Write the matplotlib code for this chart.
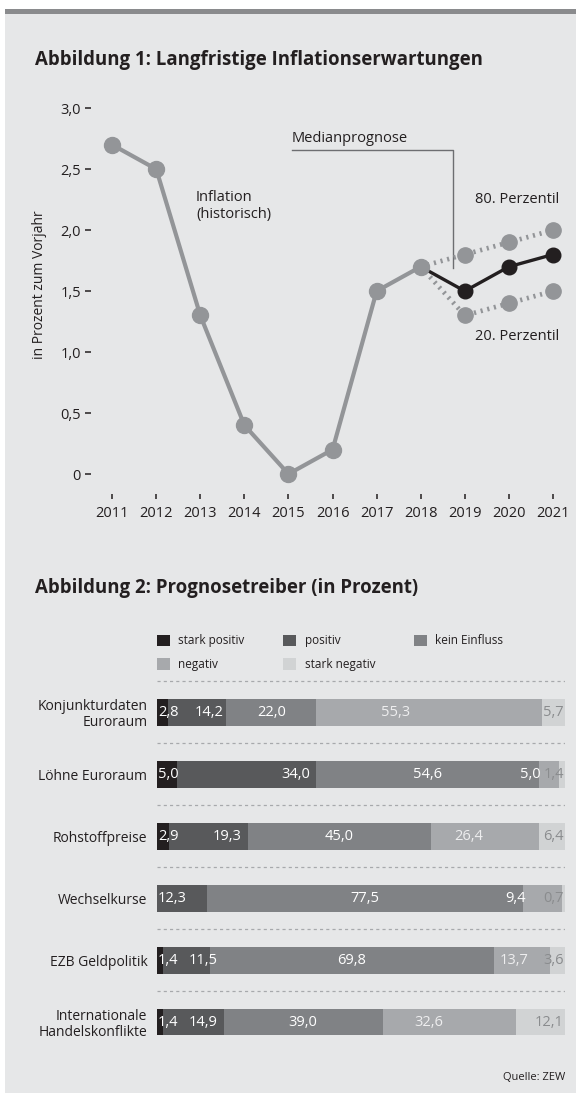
import matplotlib
matplotlib.use("Agg")
import matplotlib.pyplot as plt
from matplotlib.patches import Rectangle, Patch

plt.rcParams['font.family'] = ['Open Sans', 'DejaVu Sans']

# --- Abbildung 1 data
years_hist = [2011, 2012, 2013, 2014, 2015, 2016, 2017, 2018]
inflation_hist = [2.7, 2.5, 1.3, 0.4, 0.0, 0.2, 1.5, 1.7]
years_prog = [2018, 2019, 2020, 2021]
median_prog = [1.7, 1.5, 1.7, 1.8]
p80_prog = [1.7, 1.8, 1.9, 2.0]
p20_prog = [1.7, 1.3, 1.4, 1.5]
y_ticks = [0, 0.5, 1.0, 1.5, 2.0, 2.5, 3.0]
y_tick_labels = ['0', '0,5', '1,0', '1,5', '2,0', '2,5', '3,0']
x_ticks = list(range(2011, 2022))

# --- Abbildung 2 data
drivers = ['Konjunkturdaten\nEuroraum', 'Löhne Euroraum', 'Rohstoffpreise',
           'Wechselkurse', 'EZB Geldpolitik', 'Internationale\nHandelskonflikte']
stark_positiv = [2.8, 5.0, 2.9, 0.0, 1.4, 1.4]
positiv = [14.2, 34.0, 19.3, 12.3, 11.5, 14.9]
kein_einfluss = [22.0, 54.6, 45.0, 77.5, 69.8, 39.0]
negativ = [55.3, 5.0, 26.4, 9.4, 13.7, 32.6]
stark_negativ = [5.7, 1.4, 6.4, 0.7, 3.6, 12.1]
series_names = ['stark positiv', 'positiv', 'kein Einfluss', 'negativ', 'stark negativ']

bg = '#e6e7e8'
txt = '#231f20'
grey = '#939598'
seg_colors = ['#231f20', '#58595b', '#808285', '#a7a9ac', '#d1d3d4']
seg_text = ['white', 'white', 'white', '#eeeeef', '#8a8c8e']

W, H = 576, 1093
fig = plt.figure(figsize=(W / 100, H / 100), dpi=100)
fig.patch.set_facecolor('white')
fig.patches.append(Rectangle((5 / W, 0), 1 - 5 / W, 1 - 14 / H, transform=fig.transFigure,
                             facecolor=bg, edgecolor='none', zorder=-10))
fig.patches.append(Rectangle((5 / W, 1 - 14 / H), 1 - 5 / W, 5.5 / H, transform=fig.transFigure,
                             facecolor='#8a8b8d', edgecolor='none', zorder=-10))

fig.text(35 / W, 1 - 60 / H, 'Abbildung 1: Langfristige Inflationserwartungen',
         fontsize=13.4, fontweight='bold', color=txt, va='center')
fig.text(35 / W, 1 - 588 / H, 'Abbildung 2: Prognosetreiber (in Prozent)',
         fontsize=13.4, fontweight='bold', color=txt, va='center')
fig.text(40 / W, 1 - 285 / H, 'in Prozent zum Vorjahr', rotation=90,
         fontsize=10, color=txt, ha='center', va='center')
fig.text(565 / W, 1 - 1077 / H, 'Quelle: ZEW', fontsize=8, color=txt, ha='right', va='center')

# ---------------- line chart
ax = fig.add_axes([91 / W, 1 - 494 / H, 479.6 / W, 398 / H])
ax.set_facecolor('none')
ax.plot(years_prog, p80_prog, color=grey, lw=3.4, linestyle=(0, (0.45, 1.0)), zorder=2)
ax.plot(years_prog, p20_prog, color=grey, lw=3.4, linestyle=(0, (0.45, 1.0)), zorder=2)
ax.plot(years_prog[1:], p80_prog[1:], 'o', color=grey, ms=11, zorder=4, clip_on=False)
ax.plot(years_prog[1:], p20_prog[1:], 'o', color=grey, ms=11, zorder=4, clip_on=False)
ax.plot(years_prog, median_prog, color=txt, lw=2.4, zorder=3)
ax.plot(years_prog[1:], median_prog[1:], 'o', color=txt, ms=10.5, zorder=5, clip_on=False)
ax.plot(years_hist, inflation_hist, color=grey, lw=3, marker='o', ms=11.5, zorder=4, clip_on=False)

ax.set_xlim(2010.52, 2021.4)
ax.set_ylim(-0.164, 3.1)
ax.set_xticks(x_ticks)
ax.set_xticklabels([str(y) for y in x_ticks])
ax.set_yticks(y_ticks)
ax.set_yticklabels(y_tick_labels)
for s in ax.spines.values():
    s.set_visible(False)
ax.tick_params(axis='y', length=4.3, width=1.1, color=txt, pad=3, labelsize=10.5, labelcolor=txt)
ax.tick_params(axis='x', length=3.6, width=1.1, color=txt, pad=5, labelsize=10.5, labelcolor=txt)

ax.plot([2015.07, 2018.73, 2018.73], [2.66, 2.66, 1.69], color='#6d6e71', lw=1, zorder=1)
ax.text(2015.07, 2.75, 'Medianprognose', fontsize=10.5, color=txt, ha='left', va='center')
ax.text(2012.9, 2.2, 'Inflation\n(historisch)', fontsize=10.5, color=txt, ha='left', va='center',
        linespacing=1.15)
ax.text(2021.14, 2.25, '80. Perzentil', fontsize=10.5, color=txt, ha='right', va='center')
ax.text(2021.14, 1.13, '20. Perzentil', fontsize=10.5, color=txt, ha='right', va='center')

# ---------------- stacked bars
ax2 = fig.add_axes([157 / W, 1 - 1053 / H, 408 / W, 375 / H])
ax2.set_facecolor('none')
series = [stark_positiv, positiv, kein_einfluss, negativ, stark_negativ]
ypos = list(range(len(drivers)))
left = [0.0] * len(drivers)
handles = []
for k, vals in enumerate(series):
    ax2.barh(ypos, vals, left=left, height=0.435, color=seg_colors[k], edgecolor='none', zorder=2)
    handles.append(Patch(facecolor=seg_colors[k], edgecolor='none', label=series_names[k]))
    left = [l + v for l, v in zip(left, vals)]

# value labels
for i in ypos:
    vals = [s[i] for s in series]
    starts = [sum(vals[:k]) for k in range(5)]
    nz = [k for k in range(5) if vals[k] > 0]
    for k in nz:
        lab = f'{vals[k]:.1f}'.replace('.', ',')
        col = seg_text[k]
        end = starts[k] + vals[k]
        if k == nz[0]:
            x, ha = starts[k] + 0.2, 'left'
        elif k == nz[-1]:
            x, ha = 100 - 0.3, 'right'
        elif k == 1:
            x, ha = max(end - 1.5, starts[k] + 13.5), 'right'
        elif vals[k] < 10:
            x, ha = starts[k] + 0.5, 'right'
            col = seg_text[k - 1]
        elif k == 3:
            x, ha = starts[k] + 0.35 * vals[k], 'center'
        else:
            x, ha = starts[k] + vals[k] / 2, 'center'
        ax2.text(x, i, lab, ha=ha, va='center', fontsize=10.5, color=col, zorder=3)

ax2.hlines([y - 0.5 for y in ypos], 0, 100, colors='#a7a9ac', lw=0.9,
           linestyles=(0, (2.5, 2.5)), zorder=1)
ax2.set_xlim(0, 100)
ax2.set_ylim(5.5, -0.55)
ax2.set_yticks(ypos)
ax2.set_yticklabels(drivers, fontsize=10, color=txt, linespacing=1.1)
ax2.set_xticks([])
ax2.tick_params(axis='y', length=0, pad=7)
for s in ax2.spines.values():
    s.set_visible(False)

order = [0, 3, 1, 4, 2]
leg = ax2.legend([handles[o] for o in order], [series_names[o] for o in order],
                 ncol=3, loc='lower left', bbox_to_anchor=(157 / W, 1 - 671 / H),
                 bbox_transform=fig.transFigure, frameon=False, fontsize=8.5,
                 handlelength=1.1, handleheight=1.1, handletextpad=0.7,
                 labelspacing=0.9, columnspacing=3.3, borderpad=0, borderaxespad=0)
for t in leg.get_texts():
    t.set_color(txt)

fig.savefig('out.png', dpi=100)
